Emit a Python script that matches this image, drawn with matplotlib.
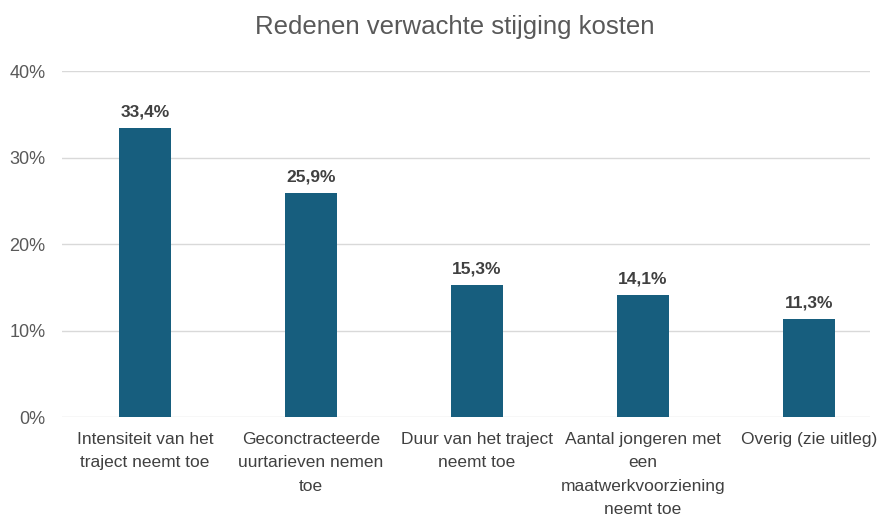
import matplotlib.pyplot as plt
from matplotlib.ticker import FuncFormatter

plt.rcParams['font.family'] = ['Liberation Sans', 'DejaVu Sans']

categories = [
    'Intensiteit van het\ntraject neemt toe',
    'Geconctracteerde\nuurtarieven nemen\ntoe',
    'Duur van het traject\nneemt toe',
    'Aantal jongeren met\neen\nmaatwerkvoorziening\nneemt toe',
    'Overig (zie uitleg)',
]
values = [33.4, 25.9, 15.3, 14.1, 11.3]
labels = ['33,4%', '25,9%', '15,3%', '14,1%', '11,3%']
y_ticks = [0, 10, 20, 30, 40]

fig = plt.figure(figsize=(8.8, 5.2), dpi=100)
ax = fig.add_axes([62 / 880, 1 - 417 / 520, 808 / 880, 346 / 520])

x = list(range(len(categories)))
ax.bar(x, values, width=0.313, color='#175E7E', zorder=3)

for xi, v, lab in zip(x, values, labels):
    ax.annotate(lab, (xi, v), xytext=(0, 6), textcoords='offset points',
                ha='center', va='bottom', fontsize=12.5, fontweight='bold',
                color='#404040')

ax.set_xlim(-0.5, -0.5 + 808 / 166)
ax.set_ylim(0, 40)
ax.set_yticks(y_ticks)
ax.yaxis.set_major_formatter(FuncFormatter(lambda v, p: f'{v:.0f}%'))
ax.grid(axis='y', color='#D9D9D9', linewidth=1, zorder=0)
for s in ax.spines.values():
    s.set_visible(False)
ax.tick_params(axis='y', length=0, pad=12, labelsize=13, labelcolor='#595959')
ax.tick_params(axis='x', length=0, pad=11)
ax.set_xticks(x)
ax.set_xticklabels(categories, fontsize=12.5, color='#404040',
                   linespacing=1.68)

fig.text(455 / 880, 1 - 27 / 520, 'Redenen verwachte stijging kosten',
         ha='center', va='center', fontsize=18.5, color='#595959')

fig.savefig('out.png', dpi=100)
